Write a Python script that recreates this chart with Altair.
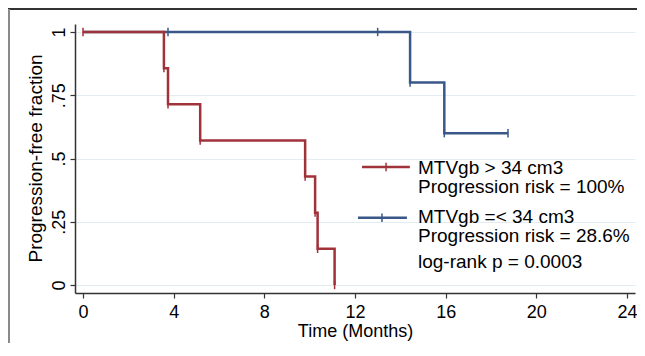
import altair as alt
import pandas as pd

# ---- data ----
group_hi = "MTVgb > 34 cm3"
group_lo = "MTVgb =< 34 cm3"

red_time = [0, 3.57, 3.75, 5.17, 9.8, 10.24, 10.35, 11.1]
red_surv = [1, 0.857, 0.714, 0.571, 0.429, 0.286, 0.143, 0]
blue_time = [0, 3.75, 13.0, 14.43, 15.94, 18.75]
blue_surv = [1, 1, 1, 0.8, 0.6, 0.6]

red_tick_time = [0, 3.57, 3.75, 5.17, 9.8, 10.24, 10.35, 11.1]
red_tick_surv = [1, 0.857, 0.714, 0.571, 0.429, 0.286, 0.143, 0]
blue_tick_time = [3.75, 13.0, 14.43, 15.94, 18.75]
blue_tick_surv = [1, 1, 0.8, 0.6, 0.6]

x_ticks = [0, 4, 8, 12, 16, 20, 24]
y_ticks = [0, 0.25, 0.5, 0.75, 1]

legend_lines = [group_hi, "Progression risk = 100%", group_lo,
                "Progression risk = 28.6%", "log-rank p = 0.0003"]

# ---- layout (annotation placement in data units) ----
legend_text_x = 14.78
legend_text_y = [0.4387, 0.3636, 0.245, 0.170, 0.0672]
legend_sample = {
    group_hi: dict(x1=12.31, x2=14.42, y=0.4664, tick=13.37),
    group_lo: dict(x1=12.13, x2=14.29, y=0.266, tick=13.19),
}

RED = "#a0323a"
BLUE = "#3a5789"
FONT = "Liberation Sans"
colors = {group_hi: RED, group_lo: BLUE}

red_df = pd.DataFrame({"t": red_time, "s": red_surv})
blue_df = pd.DataFrame({"t": blue_time, "s": blue_surv})
red_ticks_df = pd.DataFrame({"t": red_tick_time, "s": red_tick_surv})
blue_ticks_df = pd.DataFrame({"t": blue_tick_time, "s": blue_tick_surv})
text_df = pd.DataFrame({"t": [legend_text_x] * len(legend_lines),
                        "s": legend_text_y, "label": legend_lines})

x_scale = alt.Scale(domain=[-0.353, 24.353], nice=False, zero=False)
y_scale = alt.Scale(domain=[-0.0316, 1.0316], nice=False, zero=False)

x_axis = alt.Axis(values=x_ticks, title="Time (Months)", grid=False,
                  labelFontSize=18, titleFontSize=18, labelFont=FONT, titleFont=FONT,
                  labelColor="black", titleColor="black", titleFontWeight="normal",
                  domainColor="#333333", domainWidth=1.5, tickColor="#333333",
                  tickWidth=1.2, tickSize=5, labelPadding=5, titlePadding=1)
y_axis = alt.Axis(values=y_ticks, title="Progression-free fraction",
                  labelExpr="datum.value == 1 ? '1' : datum.value == 0 ? '0' : replace(format(datum.value, '.2~f'), '0.', '.')",
                  labelAngle=-90, labelAlign="center", labelBaseline="alphabetic",
                  labelFontSize=18, titleFontSize=19, labelFont=FONT, titleFont=FONT,
                  labelColor="black", titleColor="black", titleFontWeight="normal",
                  domainColor="#333333", domainWidth=1.5, tickColor="#333333",
                  tickWidth=1.2, tickSize=5, labelPadding=6,
                  grid=True, gridColor="#e3edf1", gridWidth=1.2,
                  titleAngle=-90, titleAlign="center", titleBaseline="middle",
                  titleX=-40, titleY=134)

X = alt.X("t:Q", scale=x_scale, axis=x_axis)
Y = alt.Y("s:Q", scale=y_scale, axis=y_axis)

tick_shape = "M0,-1L0,1"

blue_line = alt.Chart(blue_df).mark_line(interpolate="step-after", color=BLUE, strokeWidth=2.5).encode(x=X, y=Y)
red_line = alt.Chart(red_df).mark_line(interpolate="step-after", color=RED, strokeWidth=2.5).encode(x=X, y=Y)
blue_ticks = alt.Chart(blue_ticks_df).mark_point(shape=tick_shape, size=70, color=BLUE, strokeWidth=1.5,
                                                  filled=False, opacity=1).encode(x=X, y=Y)
red_ticks = alt.Chart(red_ticks_df).mark_point(shape=tick_shape, size=70, color=RED, strokeWidth=1.5,
                                                filled=False, opacity=1).encode(x=X, y=Y)

leg_rows = []
tick_rows = []
for g in [group_hi, group_lo]:
    p = legend_sample[g]
    leg_rows.append({"t": p["x1"], "t2": p["x2"], "s": p["y"], "g": g})
    tick_rows.append({"t": p["tick"], "s": p["y"], "g": g})
leg_df = pd.DataFrame(leg_rows)
leg_tick_df = pd.DataFrame(tick_rows)
color_enc = alt.Color("g:N", scale=alt.Scale(domain=list(colors.keys()), range=list(colors.values())), legend=None)

leg_lines = alt.Chart(leg_df).mark_rule(strokeWidth=2.5).encode(x=X, x2="t2:Q", y=Y, color=color_enc)
leg_ticks = alt.Chart(leg_tick_df).mark_point(shape=tick_shape, size=70, strokeWidth=1.5, filled=False,
                                              opacity=1).encode(x=X, y=Y, color=color_enc)
leg_text = alt.Chart(text_df).mark_text(align="left", baseline="alphabetic", fontSize=19, font=FONT,
                                        color="black").encode(x=X, y=Y, text="label:N")

# outer frame (top and left edges of the figure box)
frame_top = alt.Chart(red_df).mark_rule(color="#333333", strokeWidth=1.5).encode(
    x=alt.value(-67), x2=alt.value(570), y=alt.value(-15))
frame_left = alt.Chart(red_df).mark_rule(color="#8a8a8a", strokeWidth=2).encode(
    x=alt.value(-66), y=alt.value(-15), y2=alt.value(330))

chart = alt.layer(
    blue_line, red_line, blue_ticks, red_ticks, leg_lines, leg_ticks, leg_text, frame_top, frame_left
).properties(
    width=560, height=269,
    autosize=alt.AutoSizeParams(type="none"),
    padding={"left": 67, "top": 16, "right": 2, "bottom": 50},
    background="white",
).configure_view(stroke=None)

chart.save("out.html", embed_options={"renderer": "svg", "actions": False})
